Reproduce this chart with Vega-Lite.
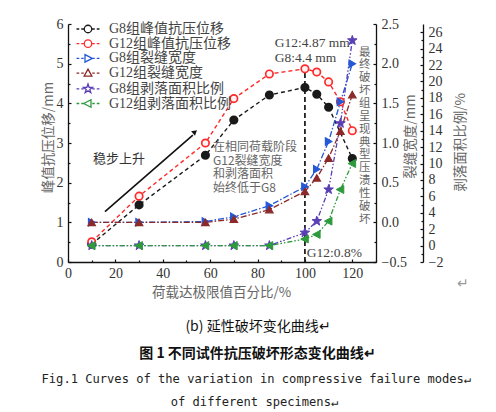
{
  "$schema": "https://vega.github.io/schema/vega-lite/v6.json",
  "width": 308,
  "height": 238,
  "autosize": {"type": "none"},
  "padding": {"left": 68, "top": 24, "right": 120, "bottom": 150},
  "config": {
    "view": {"stroke": null},
    "axis": {"grid": false, "domainColor": "#111", "domainWidth": 1.3, "tickColor": "#111", "tickWidth": 1.2,
      "labelFont": "Liberation Serif", "labelFontSize": 14, "labelColor": "#333", "labelFlush": false,
      "titleFont": "Noto Sans CJK SC", "titleFontSize": 13.5, "titleFontWeight": "normal", "titleColor": "#666"},
    "text": {"font": "Noto Sans CJK SC"}
  },
  "data": {
    "values": [
      {"pct": 10, "val": 0.45, "series": "G8组峰值抗压位移", "grp": "disp"},
      {"pct": 30, "val": 1.44, "series": "G8组峰值抗压位移", "grp": "disp"},
      {"pct": 58, "val": 2.69, "series": "G8组峰值抗压位移", "grp": "disp"},
      {"pct": 70, "val": 3.58, "series": "G8组峰值抗压位移", "grp": "disp"},
      {"pct": 85, "val": 4.21, "series": "G8组峰值抗压位移", "grp": "disp"},
      {"pct": 100, "val": 4.4, "series": "G8组峰值抗压位移", "grp": "disp"},
      {"pct": 105, "val": 4.23, "series": "G8组峰值抗压位移", "grp": "disp"},
      {"pct": 110, "val": 3.9, "series": "G8组峰值抗压位移", "grp": "disp"},
      {"pct": 120, "val": 2.61, "series": "G8组峰值抗压位移", "grp": "disp"},
      {"pct": 10, "val": 0.51, "series": "G12组峰值抗压位移", "grp": "disp"},
      {"pct": 30, "val": 1.66, "series": "G12组峰值抗压位移", "grp": "disp"},
      {"pct": 58, "val": 3.0, "series": "G12组峰值抗压位移", "grp": "disp"},
      {"pct": 70, "val": 4.12, "series": "G12组峰值抗压位移", "grp": "disp"},
      {"pct": 85, "val": 4.74, "series": "G12组峰值抗压位移", "grp": "disp"},
      {"pct": 100, "val": 4.87, "series": "G12组峰值抗压位移", "grp": "disp"},
      {"pct": 105, "val": 4.79, "series": "G12组峰值抗压位移", "grp": "disp"},
      {"pct": 110, "val": 4.54, "series": "G12组峰值抗压位移", "grp": "disp"},
      {"pct": 115, "val": 4.04, "series": "G12组峰值抗压位移", "grp": "disp"},
      {"pct": 120, "val": 3.31, "series": "G12组峰值抗压位移", "grp": "disp"},
      {"pct": 10, "val": 0.0, "series": "G8组裂缝宽度", "grp": "crack"},
      {"pct": 30, "val": 0.0, "series": "G8组裂缝宽度", "grp": "crack"},
      {"pct": 58, "val": 0.01, "series": "G8组裂缝宽度", "grp": "crack"},
      {"pct": 70, "val": 0.07, "series": "G8组裂缝宽度", "grp": "crack"},
      {"pct": 85, "val": 0.21, "series": "G8组裂缝宽度", "grp": "crack"},
      {"pct": 100, "val": 0.45, "series": "G8组裂缝宽度", "grp": "crack"},
      {"pct": 105, "val": 0.67, "series": "G8组裂缝宽度", "grp": "crack"},
      {"pct": 110, "val": 1.02, "series": "G8组裂缝宽度", "grp": "crack"},
      {"pct": 115, "val": 1.52, "series": "G8组裂缝宽度", "grp": "crack"},
      {"pct": 120, "val": 2.0, "series": "G8组裂缝宽度", "grp": "crack"},
      {"pct": 10, "val": 0.0, "series": "G12组裂缝宽度", "grp": "crack"},
      {"pct": 30, "val": 0.0, "series": "G12组裂缝宽度", "grp": "crack"},
      {"pct": 58, "val": 0.0, "series": "G12组裂缝宽度", "grp": "crack"},
      {"pct": 70, "val": 0.04, "series": "G12组裂缝宽度", "grp": "crack"},
      {"pct": 85, "val": 0.16, "series": "G12组裂缝宽度", "grp": "crack"},
      {"pct": 100, "val": 0.39, "series": "G12组裂缝宽度", "grp": "crack"},
      {"pct": 105, "val": 0.56, "series": "G12组裂缝宽度", "grp": "crack"},
      {"pct": 110, "val": 0.81, "series": "G12组裂缝宽度", "grp": "crack"},
      {"pct": 115, "val": 1.15, "series": "G12组裂缝宽度", "grp": "crack"},
      {"pct": 120, "val": 1.61, "series": "G12组裂缝宽度", "grp": "crack"},
      {"pct": 10, "val": 0, "series": "G8组剥落面积比例", "grp": "spall"},
      {"pct": 30, "val": 0, "series": "G8组剥落面积比例", "grp": "spall"},
      {"pct": 58, "val": 0, "series": "G8组剥落面积比例", "grp": "spall"},
      {"pct": 70, "val": 0, "series": "G8组剥落面积比例", "grp": "spall"},
      {"pct": 85, "val": 0, "series": "G8组剥落面积比例", "grp": "spall"},
      {"pct": 100, "val": 1.57, "series": "G8组剥落面积比例", "grp": "spall"},
      {"pct": 105, "val": 2.98, "series": "G8组剥落面积比例", "grp": "spall"},
      {"pct": 110, "val": 6.83, "series": "G8组剥落面积比例", "grp": "spall"},
      {"pct": 115, "val": 14.9, "series": "G8组剥落面积比例", "grp": "spall"},
      {"pct": 120, "val": 25.0, "series": "G8组剥落面积比例", "grp": "spall"},
      {"pct": 10, "val": 0, "series": "G12组剥落面积比例", "grp": "spall"},
      {"pct": 30, "val": 0, "series": "G12组剥落面积比例", "grp": "spall"},
      {"pct": 58, "val": 0, "series": "G12组剥落面积比例", "grp": "spall"},
      {"pct": 70, "val": 0, "series": "G12组剥落面积比例", "grp": "spall"},
      {"pct": 85, "val": 0, "series": "G12组剥落面积比例", "grp": "spall"},
      {"pct": 100, "val": 0.8, "series": "G12组剥落面积比例", "grp": "spall"},
      {"pct": 105, "val": 1.36, "series": "G12组剥落面积比例", "grp": "spall"},
      {"pct": 110, "val": 2.98, "series": "G12组剥落面积比例", "grp": "spall"},
      {"pct": 115, "val": 6.83, "series": "G12组剥落面积比例", "grp": "spall"},
      {"pct": 120, "val": 10.0, "series": "G12组剥落面积比例", "grp": "spall"}
    ]
  },
  "resolve": {
    "scale": {"y": "independent", "shape": "independent", "fill": "independent", "stroke": "independent", "strokeDash": "independent"},
    "axis": {"x": "independent", "y": "independent"}
  },
  "layer": [
    {
      "data": {"values": [{"pct": 100, "lo": 0, "hi": 4.87}]},
      "mark": {"type": "rule", "strokeDash": [5, 3], "strokeWidth": 1.8, "color": "#222"},
      "encoding": {
        "x": {"field": "pct", "type": "quantitative", "scale": {"domain": [0, 130]},
          "axis": {"values": [0, 20, 40, 60, 80, 100, 120], "tickSize": -3, "labelPadding": 7, "orient": "bottom",
            "title": "荷载达极限值百分比/%", "titleX": 153, "titleY": 30, "titleBaseline": "middle"}},
        "y": {"field": "lo", "type": "quantitative", "scale": {"domain": [0, 6]},
          "axis": {"values": [0, 1, 2, 3, 4, 5, 6], "tickSize": -3, "labelPadding": 8, "orient": "left",
            "title": "峰值抗压位移/mm", "titleX": -20, "titleY": 113, "titleBaseline": "middle", "titleAngle": -90}},
        "y2": {"field": "hi"}
      }
    },
    {
      "transform": [{"filter": "datum.grp === 'disp'"}],
      "mark": {"type": "line", "strokeWidth": 1.4},
      "encoding": {
        "x": {"field": "pct", "type": "quantitative", "scale": {"domain": [0, 130]},
          "axis": {"values": [10, 30, 50, 70, 90, 110, 130], "tickSize": -2, "labels": false, "domain": false, "title": null, "orient": "bottom"}},
        "y": {"field": "val", "type": "quantitative", "scale": {"domain": [0, 6]},
          "axis": {"values": [0.5, 1.5, 2.5, 3.5, 4.5, 5.5], "tickSize": -2, "labels": false, "domain": false, "title": null, "orient": "left"}},
        "stroke": {"field": "series", "type": "nominal", "legend": null,
          "scale": {"domain": ["G8组峰值抗压位移", "G12组峰值抗压位移"], "range": ["#1a1a1a", "#ff2a2a"]}},
        "strokeDash": {"field": "series", "type": "nominal", "legend": null,
          "scale": {"domain": ["G8组峰值抗压位移", "G12组峰值抗压位移"], "range": [[4, 3], [4, 3]]}}
      }
    },
    {
      "transform": [{"filter": "datum.grp === 'crack'"}],
      "mark": {"type": "line", "strokeWidth": 1.3},
      "encoding": {
        "x": {"field": "pct", "type": "quantitative", "scale": {"domain": [0, 130]}, "axis": null},
        "y": {"field": "val", "type": "quantitative", "scale": {"domain": [-0.5, 2.5]},
          "axis": {"orient": "right", "values": [-0.5, 0, 0.5, 1, 1.5, 2, 2.5], "format": ".1f", "tickSize": -3, "labelPadding": 8,
            "title": "裂缝宽度/mm", "titleX": 34, "titleY": 112, "titleBaseline": "middle", "titleAngle": -90}},
        "stroke": {"field": "series", "type": "nominal", "legend": null,
          "scale": {"domain": ["G8组裂缝宽度", "G12组裂缝宽度"], "range": ["#2458d6", "#8c2a2a"]}},
        "strokeDash": {"field": "series", "type": "nominal", "legend": null,
          "scale": {"domain": ["G8组裂缝宽度", "G12组裂缝宽度"], "range": [[6, 2, 1.5, 2], [6, 2, 1.5, 2]]}}
      }
    },
    {
      "transform": [{"filter": "datum.grp === 'spall'"}],
      "mark": {"type": "line", "strokeWidth": 1.3},
      "encoding": {
        "x": {"field": "pct", "type": "quantitative", "scale": {"domain": [0, 130]}, "axis": null},
        "y": {"field": "val", "type": "quantitative", "scale": {"domain": [-2, 27]},
          "axis": {"orient": "right", "offset": 47, "values": [-2, 0, 2, 4, 6, 8, 10, 12, 14, 16, 18, 20, 22, 24, 26], "tickSize": -3, "labelPadding": 8,
            "title": "剥落面积比例/%", "titleX": 37, "titleY": 118, "titleBaseline": "middle", "titleAngle": -90}},
        "stroke": {"field": "series", "type": "nominal", "legend": null,
          "scale": {"domain": ["G8组剥落面积比例", "G12组剥落面积比例"], "range": ["#5a3fb4", "#2e9a3e"]}},
        "strokeDash": {"field": "series", "type": "nominal", "legend": null,
          "scale": {"domain": ["G8组剥落面积比例", "G12组剥落面积比例"], "range": [[5, 2, 1.5, 2, 1.5, 2], [5, 2, 1.5, 2, 1.5, 2]]}}
      }
    },
    {
      "transform": [{"filter": "datum.grp === 'disp'"}],
      "mark": {"type": "point", "filled": true, "size": 55, "strokeWidth": 1.7, "opacity": 1},
      "encoding": {
        "x": {"field": "pct", "type": "quantitative", "scale": {"domain": [0, 130]}, "axis": null},
        "y": {"field": "val", "type": "quantitative", "scale": {"domain": [0, 6]}, "axis": null},
        "shape": {"field": "series", "type": "nominal", "legend": null,
          "scale": {"domain": ["G8组峰值抗压位移", "G12组峰值抗压位移"], "range": ["circle", "circle"]}},
        "fill": {"field": "series", "type": "nominal", "legend": null,
          "scale": {"domain": ["G8组峰值抗压位移", "G12组峰值抗压位移"], "range": ["#1a1a1a", "#fff4f4"]}},
        "stroke": {"field": "series", "type": "nominal", "legend": null,
          "scale": {"domain": ["G8组峰值抗压位移", "G12组峰值抗压位移"], "range": ["#1a1a1a", "#ff2a2a"]}}
      }
    },
    {
      "transform": [{"filter": "datum.grp === 'crack'"}],
      "mark": {"type": "point", "filled": true, "size": 55, "strokeWidth": 1.2, "opacity": 1},
      "encoding": {
        "x": {"field": "pct", "type": "quantitative", "scale": {"domain": [0, 130]}, "axis": null},
        "y": {"field": "val", "type": "quantitative", "scale": {"domain": [-0.5, 2.5]},
          "axis": {"orient": "right", "values": [-0.25, 0.25, 0.75, 1.25, 1.75, 2.25], "tickSize": -2, "labels": false, "domain": false, "title": null}},
        "shape": {"field": "series", "type": "nominal", "legend": null,
          "scale": {"domain": ["G8组裂缝宽度", "G12组裂缝宽度"], "range": ["triangle-right", "triangle-up"]}},
        "fill": {"field": "series", "type": "nominal", "legend": null,
          "scale": {"domain": ["G8组裂缝宽度", "G12组裂缝宽度"], "range": ["#2458d6", "#8c2a2a"]}},
        "stroke": {"field": "series", "type": "nominal", "legend": null,
          "scale": {"domain": ["G8组裂缝宽度", "G12组裂缝宽度"], "range": ["#2458d6", "#8c2a2a"]}}
      }
    },
    {
      "transform": [{"filter": "datum.grp === 'spall'"}],
      "mark": {"type": "point", "filled": true, "size": 70, "strokeWidth": 1, "opacity": 1},
      "encoding": {
        "x": {"field": "pct", "type": "quantitative", "scale": {"domain": [0, 130]}, "axis": null},
        "y": {"field": "val", "type": "quantitative", "scale": {"domain": [-2, 27]},
          "axis": {"orient": "right", "offset": 47, "values": [-1, 1, 3, 5, 7, 9, 11, 13, 15, 17, 19, 21, 23, 25], "tickSize": -2, "labels": false, "domain": false, "title": null}},
        "shape": {"field": "series", "type": "nominal", "legend": null,
          "scale": {"domain": ["G8组剥落面积比例", "G12组剥落面积比例"],
            "range": ["M0,-1.2L0.28,-0.39L1.14,-0.37L0.46,0.15L0.71,0.97L0,0.48L-0.71,0.97L-0.46,0.15L-1.14,-0.37L-0.28,-0.39Z", "M-1,0L0.8,-0.95L0.8,0.95Z"]}},
        "fill": {"field": "series", "type": "nominal", "legend": null,
          "scale": {"domain": ["G8组剥落面积比例", "G12组剥落面积比例"], "range": ["#5a3fb4", "#2e9a3e"]}},
        "stroke": {"field": "series", "type": "nominal", "legend": null,
          "scale": {"domain": ["G8组剥落面积比例", "G12组剥落面积比例"], "range": ["#5a3fb4", "#2e9a3e"]}}
      }
    },
    {
      "mark": {"type": "point", "filled": true, "opacity": 0},
      "encoding": {
        "x": {"field": "pct", "type": "quantitative", "scale": {"domain": [0, 130]}, "axis": null},
        "y": {"field": "val", "type": "quantitative", "scale": {"domain": [-2, 27]}, "axis": null},
        "shape": {"field": "series", "type": "nominal",
          "scale": {"domain": ["G8组峰值抗压位移", "G12组峰值抗压位移", "G8组裂缝宽度", "G12组裂缝宽度", "G8组剥落面积比例", "G12组剥落面积比例"],
            "range": [
              "M-2.3,0H-1.75M-1.35,0H-0.85M0.85,0H1.35M1.75,0H2.3M0.75,0A0.75,0.75,0,1,1,-0.75,0A0.75,0.75,0,1,1,0.75,0Z",
              "M-2.3,0H-1.75M-1.35,0H-0.85M0.85,0H1.35M1.75,0H2.3M0.75,0A0.75,0.75,0,1,1,-0.75,0A0.75,0.75,0,1,1,0.75,0Z",
              "M-2.3,0H-1.75M-1.35,0H-0.85M0.85,0H1.35M1.75,0H2.3M0.85,0L-0.6,-0.75L-0.6,0.75Z",
              "M-2.3,0H-1.75M-1.35,0H-0.85M0.85,0H1.35M1.75,0H2.3M0,-0.8L0.78,0.62L-0.78,0.62Z",
              "M-2.3,0H-1.75M-1.35,0H-0.85M0.85,0H1.35M1.75,0H2.3M0,-0.95L0.22,-0.3L0.9,-0.29L0.36,0.12L0.56,0.77L0,0.38L-0.56,0.77L-0.36,0.12L-0.9,-0.29L-0.22,-0.3Z",
              "M-2.3,0H-1.75M-1.35,0H-0.85M0.85,0H1.35M1.75,0H2.3M-0.85,0L0.6,-0.75L0.6,0.75Z"
            ]},
          "legend": {"orient": "none", "legendX": 13, "legendY": -2, "title": null, "padding": 0,
            "symbolSize": 100, "symbolStrokeWidth": 1.3, "labelOffset": 14, "rowPadding": 0.7,
            "labelFont": "Liberation Serif, Noto Sans CJK SC", "labelFontSize": 14, "labelColor": "#444",
            "encode": {"symbols": {"update": {"opacity": {"value": 1}}}}}},
        "fill": {"field": "series", "type": "nominal",
          "scale": {"domain": ["G8组峰值抗压位移", "G12组峰值抗压位移", "G8组裂缝宽度", "G12组裂缝宽度", "G8组剥落面积比例", "G12组剥落面积比例"],
            "range": ["#1a1a1a", "#ffffff", "#2458d6", "#8c2a2a", "#5a3fb4", "#2e9a3e"]}},
        "stroke": {"field": "series", "type": "nominal",
          "scale": {"domain": ["G8组峰值抗压位移", "G12组峰值抗压位移", "G8组裂缝宽度", "G12组裂缝宽度", "G8组剥落面积比例", "G12组剥落面积比例"],
            "range": ["#1a1a1a", "#ff2a2a", "#2458d6", "#8c2a2a", "#5a3fb4", "#2e9a3e"]}}
      }
    },
    {
      "data": {"values": [{"x1": 15.6, "y1": 1.27, "x2": 52.7, "y2": 3.2}]},
      "mark": {"type": "rule", "strokeWidth": 1.6, "color": "#111"},
      "encoding": {
        "x": {"field": "x1", "type": "quantitative", "scale": {"domain": [0, 130]}, "axis": null},
        "y": {"field": "y1", "type": "quantitative", "scale": {"domain": [0, 6]}, "axis": null},
        "x2": {"field": "x2"},
        "y2": {"field": "y2"}
      }
    },
    {
      "data": {"values": [{"x": 53.6, "y": 3.28}]},
      "mark": {"type": "point", "shape": "triangle-up", "angle": 49, "filled": true, "size": 35, "color": "#111", "opacity": 1},
      "encoding": {
        "x": {"field": "x", "type": "quantitative", "scale": {"domain": [0, 130]}, "axis": null},
        "y": {"field": "y", "type": "quantitative", "scale": {"domain": [0, 6]}, "axis": null}
      }
    },
    {
      "data": {"values": [{"t": "稳步上升", "x": 10.5, "y": 2.6}]},
      "mark": {"type": "text", "align": "left", "baseline": "middle", "fontSize": 13, "color": "#333"},
      "encoding": {
        "x": {"field": "x", "type": "quantitative", "scale": {"domain": [0, 130]}, "axis": null},
        "y": {"field": "y", "type": "quantitative", "scale": {"domain": [0, 6]}, "axis": null},
        "text": {"field": "t"}
      }
    },
    {
      "data": {"values": [{"x": 61.2, "y": 3.03}]},
      "mark": {"type": "text", "align": "left", "baseline": "top", "fontSize": 12, "lineHeight": 13.7, "color": "#666",
        "text": ["在相同荷载阶段", "G12裂缝宽度", "和剥落面积", "始终低于G8"]},
      "encoding": {
        "x": {"field": "x", "type": "quantitative", "scale": {"domain": [0, 130]}, "axis": null},
        "y": {"field": "y", "type": "quantitative", "scale": {"domain": [0, 6]}, "axis": null}
      }
    },
    {
      "data": {"values": [{"x": 125.3, "y": 5.43}]},
      "mark": {"type": "text", "align": "center", "baseline": "top", "fontSize": 11.5, "lineHeight": 12.85, "color": "#666",
        "text": ["最", "终", "破", "坏", "组", "呈", "现", "典", "型", "压", "溃", "性", "破", "坏"]},
      "encoding": {
        "x": {"field": "x", "type": "quantitative", "scale": {"domain": [0, 130]}, "axis": null},
        "y": {"field": "y", "type": "quantitative", "scale": {"domain": [0, 6]}, "axis": null}
      }
    },
    {
      "data": {"values": [
        {"t": "G12:4.87 mm", "x": 87.3, "y": 5.53},
        {"t": "G8:4.4 mm", "x": 87.3, "y": 5.14},
        {"t": "G12:0.8%", "x": 100.8, "y": 0.23}
      ]},
      "mark": {"type": "text", "align": "left", "baseline": "middle", "font": "Liberation Serif", "fontSize": 13.5, "color": "#444"},
      "encoding": {
        "x": {"field": "x", "type": "quantitative", "scale": {"domain": [0, 130]}, "axis": null},
        "y": {"field": "y", "type": "quantitative", "scale": {"domain": [0, 6]}, "axis": null},
        "text": {"field": "t"}
      }
    },
    {
      "data": {"values": [
        {"t": "(b)  延性破坏变化曲线↵", "x": 80.2, "y": -1.64}
      ]},
      "mark": {"type": "text", "align": "center", "baseline": "middle", "fontSize": 14, "color": "#111"},
      "encoding": {
        "x": {"field": "x", "type": "quantitative", "scale": {"domain": [0, 130]}, "axis": null},
        "y": {"field": "y", "type": "quantitative", "scale": {"domain": [0, 6]}, "axis": null},
        "text": {"field": "t"}
      }
    },
    {
      "data": {"values": [
        {"t": "图 1   不同试件抗压破坏形态变化曲线↵", "x": 80.0, "y": -2.32}
      ]},
      "mark": {"type": "text", "align": "center", "baseline": "middle", "fontSize": 14, "fontWeight": "bold", "color": "#111"},
      "encoding": {
        "x": {"field": "x", "type": "quantitative", "scale": {"domain": [0, 130]}, "axis": null},
        "y": {"field": "y", "type": "quantitative", "scale": {"domain": [0, 6]}, "axis": null},
        "text": {"field": "t"}
      }
    },
    {
      "data": {"values": [
        {"t": "↵", "x": 166.7, "y": -0.55}
      ]},
      "mark": {"type": "text", "align": "center", "baseline": "middle", "fontSize": 14, "color": "#999"},
      "encoding": {
        "x": {"field": "x", "type": "quantitative", "scale": {"domain": [0, 130]}, "axis": null},
        "y": {"field": "y", "type": "quantitative", "scale": {"domain": [0, 6]}, "axis": null},
        "text": {"field": "t"}
      }
    },
    {
      "data": {"values": [
        {"t": "Fig.1  Curves of the variation in compressive failure modes↵", "x": 79.5, "y": -2.95},
        {"t": "of different specimens↵", "x": 78.7, "y": -3.53}
      ]},
      "mark": {"type": "text", "align": "center", "baseline": "middle", "font": "DejaVu Sans Mono", "fontSize": 12.1, "color": "#222"},
      "encoding": {
        "x": {"field": "x", "type": "quantitative", "scale": {"domain": [0, 130]}, "axis": null},
        "y": {"field": "y", "type": "quantitative", "scale": {"domain": [0, 6]}, "axis": null},
        "text": {"field": "t"}
      }
    }
  ]
}
